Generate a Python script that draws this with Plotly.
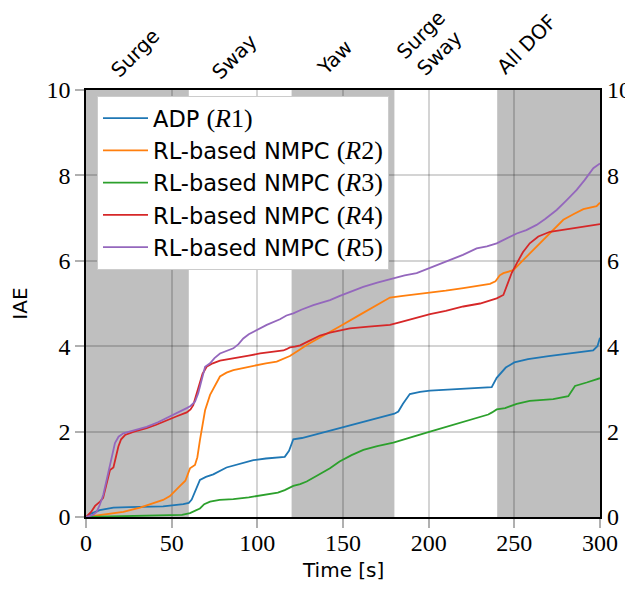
import plotly.graph_objects as go

# ---------------- data ----------------
t_adp = [0, 3, 8, 16, 25, 35, 45, 56.8, 60, 61.7, 63.5, 66.5, 70, 74.3, 82, 90, 97.7, 105, 116, 118.5, 121, 126, 132.7,
         148, 160, 176.5, 180, 182.3, 185, 189, 195, 200.8, 220, 236.8, 239.7, 245, 250, 258, 270, 280, 296, 298.5, 300]
y_adp = [0, 0.08, 0.16, 0.22, 0.23, 0.24, 0.25, 0.30, 0.33, 0.41, 0.6, 0.87, 0.94, 1.0, 1.16, 1.25, 1.33, 1.37, 1.41,
         1.55, 1.82, 1.85, 1.92, 2.09, 2.2, 2.37, 2.42, 2.47, 2.65, 2.88, 2.93, 2.96, 3.0, 3.04, 3.26, 3.5, 3.62, 3.7,
         3.77, 3.82, 3.9, 4.0, 4.2]

t_r2 = [0, 8, 15, 21.8, 31.5, 36, 41.3, 45, 49, 52, 54.9, 58, 60.7, 63.6, 65, 66.5, 68, 69.5, 72.4, 75.3, 78.2, 82, 86,
        93, 99.6, 105, 111.3, 115, 119, 124, 128.8, 135, 142.4, 148, 160, 170, 177.4, 185, 198.8, 210, 220.2, 230,
        235.8, 239, 241.5, 243.6, 249.4, 256, 263, 270, 278.6, 285, 290.3, 298, 300]
y_r2 = [0, 0.05, 0.08, 0.12, 0.22, 0.28, 0.34, 0.4, 0.49, 0.6, 0.73, 0.85, 1.14, 1.22, 1.4, 1.8, 2.15, 2.5, 2.86, 3.09,
        3.29, 3.38, 3.44, 3.5, 3.56, 3.6, 3.64, 3.7, 3.77, 3.9, 4.03, 4.17, 4.33, 4.46, 4.74, 4.97, 5.14, 5.18, 5.24,
        5.3, 5.36, 5.42, 5.46, 5.52, 5.66, 5.71, 5.78, 6.05, 6.33, 6.62, 6.96, 7.1, 7.21, 7.28, 7.36]

t_r3 = [0, 20, 40, 56, 60.7, 63.5, 66.5, 69, 72.4, 78, 86, 95, 105.5, 112, 116, 121, 125, 128.8, 135, 142.4, 148, 155,
        161.9, 170, 179.4, 185, 191, 200.8, 210, 220, 228, 234.8, 237, 239.7, 244.6, 248, 251.4, 259, 265, 272.7,
        281.5, 283.5, 285.4, 292.2, 300]
y_r3 = [0, 0.02, 0.03, 0.05, 0.09, 0.14, 0.2, 0.3, 0.36, 0.4, 0.42, 0.46, 0.52, 0.57, 0.63, 0.73, 0.77, 0.83, 0.97,
        1.14, 1.3, 1.45, 1.57, 1.66, 1.74, 1.8, 1.88, 2.0, 2.11, 2.23, 2.32, 2.4, 2.45, 2.52, 2.55, 2.6, 2.65, 2.72,
        2.74, 2.76, 2.83, 2.95, 3.07, 3.15, 3.25]

t_r4 = [0, 3, 5.3, 8.2, 10, 12, 14, 16, 17.5, 18.9, 20.5, 22.8, 28, 35.4, 41, 47.1, 53, 58.8, 61, 62.6, 64, 65.5, 66.5,
        68, 70.4, 74, 78.2, 88, 95, 101.6, 108, 115.2, 117, 119, 122, 125, 130, 136.6, 142.4, 148, 154, 165, 177.4,
        183, 189, 200.8, 210, 220.2, 230, 239.7, 243.6, 246, 248.5, 251.4, 255, 259, 264, 270.8, 280, 288.3, 300]
y_r4 = [0, 0.12, 0.26, 0.36, 0.45, 0.75, 1.1, 1.16, 1.4, 1.65, 1.82, 1.92, 2.0, 2.08, 2.16, 2.27, 2.36, 2.45, 2.52,
        2.62, 2.8, 3.0, 3.13, 3.35, 3.52, 3.6, 3.66, 3.72, 3.78, 3.83, 3.86, 3.9, 3.93, 3.97, 3.99, 4.02, 4.12, 4.25,
        4.32, 4.37, 4.42, 4.46, 4.5, 4.56, 4.63, 4.75, 4.83, 4.93, 5.0, 5.12, 5.2, 5.45, 5.72, 5.94, 6.2, 6.41, 6.57,
        6.68, 6.74, 6.78, 6.86]

t_r5 = [0, 4, 6.2, 8, 10.1, 12, 14, 16.9, 19, 21.8, 28, 35.4, 42, 49, 54, 58.8, 61, 63.6, 65.5, 67.5, 69.5, 72.4, 75,
        78.2, 82, 86, 89, 91.8, 95, 99.6, 105.5, 113.2, 117, 121, 126, 132.7, 142.4, 148.2, 155, 161.8, 170, 179.4,
        186, 193, 200, 210.5, 220, 228, 234, 239.7, 245, 251.4, 257, 263, 268, 274.7, 280, 286.4, 291, 296.1, 300]
y_r5 = [0, 0.05, 0.12, 0.28, 0.52, 0.85, 1.26, 1.73, 1.88, 1.96, 2.03, 2.11, 2.22, 2.35, 2.45, 2.55, 2.6, 2.7, 2.9,
        3.21, 3.52, 3.6, 3.72, 3.83, 3.88, 3.95, 4.05, 4.18, 4.28, 4.38, 4.5, 4.63, 4.72, 4.77, 4.86, 4.96, 5.08,
        5.18, 5.28, 5.39, 5.49, 5.59, 5.66, 5.71, 5.82, 5.98, 6.14, 6.29, 6.34, 6.41, 6.52, 6.64, 6.72, 6.84, 6.98,
        7.19, 7.4, 7.66, 7.89, 8.17, 8.28]

series_names = ["ADP", "RL-based NMPC", "RL-based NMPC", "RL-based NMPC", "RL-based NMPC"]
series_tags = ["1", "2", "3", "4", "5"]
series_colors = ["#1f77b4", "#ff7f0e", "#2ca02c", "#d62728", "#9467bd"]

phase_starts = [0, 120, 240]
phase_ends = [60, 180, 300]
phase_labels = ["Surge", "Sway", "Yaw", "Surge<br>Sway", "All DOF"]
phase_label_x = [28.6, 86.4, 144.8, 200.8, 257.4]
phase_label_y = [1.087, 1.077, 1.076, 1.108, 1.107]

x_ticks = [0, 50, 100, 150, 200, 250, 300]
y_ticks = [0, 2, 4, 6, 8, 10]

SANS = "DejaVu Sans"
SERIF = "Liberation Serif"

fig = go.Figure()
all_t = [t_adp, t_r2, t_r3, t_r4, t_r5]
all_y = [y_adp, y_r2, y_r3, y_r4, y_r5]
for i in range(5):
    label = (f"{series_names[i]} <span style=\"font-family:'{SERIF}';font-size:26px\">(<i>R</i>{series_tags[i]})</span>")
    fig.add_trace(go.Scatter(x=all_t[i], y=all_y[i], mode="lines", name=label,
                             line=dict(color=series_colors[i], width=1.8), legendgroup=f"g{i}"))

# dummy for right axis
fig.add_trace(go.Scatter(x=[], y=[], yaxis="y2", showlegend=False, hoverinfo="skip"))

for s, e in zip(phase_starts, phase_ends):
    fig.add_shape(type="rect", xref="x", yref="paper", x0=s, x1=e, y0=0, y1=1,
                  fillcolor="#bfbfbf", line=dict(width=0), layer="below")

for lab, lx, ly in zip(phase_labels, phase_label_x, phase_label_y):
    fig.add_annotation(text=lab, x=lx, y=ly, xref="x", yref="paper", showarrow=False,
                       textangle=-45, xanchor="center", yanchor="middle",
                       font=dict(family=SANS, size=20, color="black"))

fig.add_annotation(text="IAE", x=-0.13, y=0.5, xref="paper", yref="paper", showarrow=False,
                   textangle=-90, xanchor="center", yanchor="middle", font=dict(family=SANS, size=20, color="black"))
fig.add_annotation(text="Time [s]", x=0.5, y=-0.124, xref="paper", yref="paper", showarrow=False,
                   xanchor="center", yanchor="middle", font=dict(family=SANS, size=20, color="black"))

grid_c = "rgba(0,0,0,0.17)"
fig.update_layout(
    width=633, height=594,
    margin=dict(l=78, r=41, t=82, b=85, autoexpand=False),
    plot_bgcolor="white", paper_bgcolor="white",
    showlegend=True,
    legend=dict(x=0.0214, y=0.986, xanchor="left", yanchor="top", bgcolor="white",
                bordercolor="#cccccc", borderwidth=1, font=dict(family=SANS, size=22.5, color="black"),
                tracegroupgap=0, itemwidth=45),
    xaxis=dict(range=[0, 300], tickvals=x_ticks, showgrid=True, gridcolor=grid_c, gridwidth=1.5,
               showline=True, linecolor="black", linewidth=1.5, mirror=True, ticks="outside", ticklen=9,
               tickcolor="#b0b0b0", tickwidth=1.5, zeroline=False, ticklabelstandoff=-6, automargin=False,
               tickfont=dict(family=SERIF, size=24, color="black")),
    yaxis=dict(range=[0, 10], tickvals=y_ticks, showgrid=True, gridcolor=grid_c, gridwidth=1.5,
               showline=True, linecolor="black", linewidth=1.5, mirror=True, ticks="outside", ticklen=9,
               tickcolor="#b0b0b0", tickwidth=1.5, zeroline=False, automargin=False,
               ticksuffix="\u00a0\u2009",
               tickfont=dict(family=SERIF, size=24, color="black")),
    yaxis2=dict(range=[0, 10], tickvals=y_ticks, overlaying="y", side="right", anchor="x", showgrid=False,
                zeroline=False, ticks="", ticklabelstandoff=6, automargin=False,
                tickfont=dict(family=SERIF, size=24, color="black")),
)

fig.write_html("out.html")
